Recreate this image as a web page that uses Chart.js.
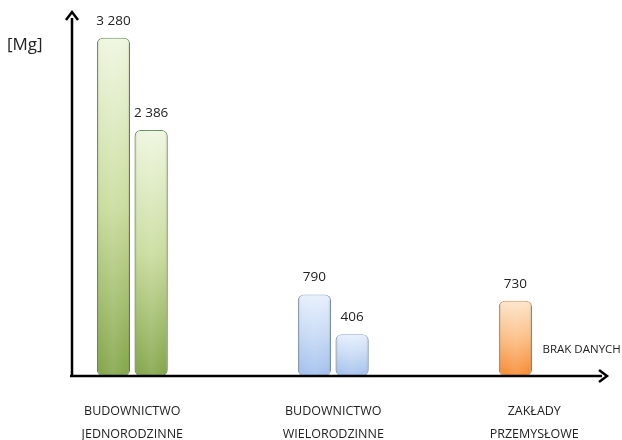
<!DOCTYPE html>
<html>
<head>
<meta charset="utf-8">
<style>
  html, body { margin: 0; padding: 0; background: #fff; }
  #wrap { width: 622px; height: 440px; position: relative; }
</style>
<script src="https://cdn.jsdelivr.net/npm/chart.js@4/dist/chart.umd.min.js"></script>
</head>
<body>
<div id="wrap"><canvas id="chart" width="622" height="440"></canvas></div>
<script>
/* ── Data ───────────────────────────────────────────────── */
var categories = [
  ['BUDOWNICTWO', 'JEDNORODZINNE'],
  ['BUDOWNICTWO', 'WIELORODZINNE'],
  ['ZAKŁADY', 'PRZEMYSŁOWE']
];
var seriesA = [3280, 790, 730];
var seriesB = [2386, 406, null];
var valueLabels = ['3 280', '790', '730', '2 386', '406', 'BRAK DANYCH'];
var unitLabel = '[Mg]';

/* colour ramps per category: top, middle, bottom */
var ramps = [
  ['#eef6de', '#c8db9a', '#7ea242'],
  ['#e6effc', '#c4d8f5', '#9ebdec'],
  ['#fde4c9', '#fbbb80', '#f6862a']
];
var edgeColors = ['#5b8650', '#869fc6', '#cf8747'];

var FONT = "'Open Sans', 'Liberation Sans', sans-serif";

function barFill(ctx) {
  var chart = ctx.chart;
  var i = ctx.dataIndex;
  var ramp = ramps[i];
  if (!chart.chartArea || !chart.scales.y || ctx.parsed == null) return ramp[1];
  var y = chart.scales.y;
  var top = y.getPixelForValue(ctx.parsed.y);
  var bottom = y.getPixelForValue(0);
  if (!isFinite(top) || top >= bottom) return ramp[1];
  var g = chart.ctx.createLinearGradient(0, top, 0, bottom);
  g.addColorStop(0, ramp[0]);
  g.addColorStop(0.5, ramp[1]);
  g.addColorStop(1, ramp[2]);
  return g;
}

function toPoints(arr) {
  return arr.map(function (v, i) { return { x: i, y: v }; });
}

/* ── Plugins ─────────────────────────────────────────────── */
var shadePlugin = {
  id: 'shade',
  afterDatasetsDraw: function (chart) {
    var c = chart.ctx;
    chart.data.datasets.forEach(function (ds, di) {
      chart.getDatasetMeta(di).data.forEach(function (bar, i) {
        if (ds.data[i].y == null) return;
        var w = bar.width, l = bar.x - w / 2, t = bar.y, b = bar.base;
        c.save();
        c.beginPath();
        c.roundRect(l, t, w, b - t, 6);
        c.clip();
        var g = c.createLinearGradient(l, 0, l + w, 0);
        g.addColorStop(0, 'rgba(40,50,30,0.32)');
        g.addColorStop(0.1, 'rgba(255,255,255,0.04)');
        g.addColorStop(0.5, 'rgba(255,255,255,0.14)');
        g.addColorStop(0.9, 'rgba(255,255,255,0.04)');
        g.addColorStop(1, 'rgba(40,50,30,0.28)');
        c.fillStyle = g;
        c.fillRect(l, t, w, b - t);
        c.restore();
      });
    });
  }
};

var labelPlugin = {
  id: 'valueLabels',
  afterDatasetsDraw: function (chart) {
    var c = chart.ctx;
    var y = chart.scales.y;
    c.save();
    c.fillStyle = '#222';
    chart.data.datasets.forEach(function (ds, di) {
      chart.getDatasetMeta(di).data.forEach(function (bar, i) {
        var text = valueLabels[di * 3 + i];
        if (ds.data[i].y == null) {
          var x = chart.scales.x.getPixelForValue(i) + bar.width * 0.25;
          c.font = '11.5px ' + FONT;
          c.textAlign = 'left';
          c.textBaseline = 'middle';
          c.fillText(text, x, y.getPixelForValue(0) - 26);
          return;
        }
        c.font = '13.5px ' + FONT;
        c.textAlign = 'center';
        c.textBaseline = 'middle';
        c.fillText(text, bar.x, bar.y - 17);
      });
    });
    c.restore();
  }
};

var axesPlugin = {
  id: 'arrowAxes',
  afterDraw: function (chart) {
    var c = chart.ctx, a = chart.chartArea;
    var x0 = a.left, y0 = a.bottom;
    c.save();
    c.strokeStyle = '#000';
    c.fillStyle = '#000';
    c.lineWidth = 2.5;
    c.beginPath();
    c.moveTo(x0, y0 + 1);
    c.lineTo(x0, a.top + 6);
    c.moveTo(x0 - 2, y0);
    c.lineTo(a.right - 6, y0);
    c.stroke();
    // arrow heads
    c.lineJoin = 'miter';
    c.beginPath();
    c.moveTo(x0 - 6, a.top + 8);
    c.lineTo(x0, a.top);
    c.lineTo(x0 + 6, a.top + 8);
    c.stroke();
    c.beginPath();
    c.moveTo(a.right - 9, y0 - 6);
    c.lineTo(a.right - 1, y0);
    c.lineTo(a.right - 9, y0 + 6);
    c.stroke();
    // unit label
    c.font = '17px ' + FONT;
    c.fillStyle = '#222';
    c.textAlign = 'left';
    c.textBaseline = 'middle';
    c.fillText(unitLabel, 7, a.top + 33);
    c.restore();
  }
};

/* ── Chart ───────────────────────────────────────────────── */
var datasets = [seriesA, seriesB].map(function (s) {
  return {
    data: toPoints(s),
    backgroundColor: barFill,
    borderColor: function (ctx) { return edgeColors[ctx.dataIndex]; },
    borderWidth: 1,
    borderRadius: 6,
    borderSkipped: false,
    barPercentage: 0.88,
    categoryPercentage: 0.375
  };
});

new Chart(document.getElementById('chart'), {
  type: 'bar',
  data: { datasets: datasets },
  plugins: [shadePlugin, labelPlugin, axesPlugin],
  options: {
    responsive: false,
    animation: false,
    layout: { padding: { left: 72, right: 14, top: 12, bottom: 0 } },
    plugins: { legend: { display: false }, tooltip: { enabled: false } },
    scales: {
      x: {
        type: 'linear',
        offset: false,
        min: -0.30,
        max: 2.367,
        grid: { display: false, drawTicks: false },
        border: { display: false },
        afterFit: function (s) { s.height = 64; },
        ticks: {
          stepSize: 1,
          includeBounds: false,
          autoSkip: false,
          maxRotation: 0,
          padding: 24,
          color: '#222',
          font: { family: FONT, size: 12.5, lineHeight: 1.85 },
          callback: function (v) {
            return Number.isInteger(v) && categories[v] ? categories[v] : '';
          }
        }
      },
      y: {
        display: false,
        min: 0,
        max: 3530
      }
    }
  }
});
</script>
</body>
</html>
